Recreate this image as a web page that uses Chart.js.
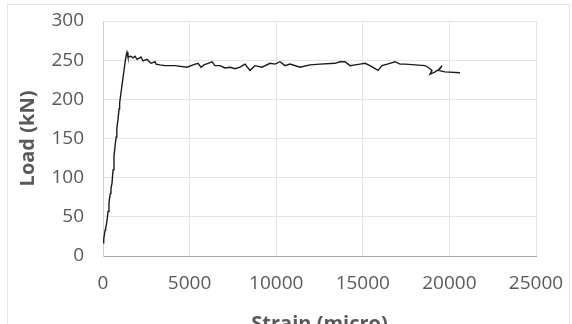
<!DOCTYPE html>
<html>
<head>
<meta charset="utf-8">
<script src="https://cdn.jsdelivr.net/npm/chart.js@4"></script>
<style>
  html, body { margin: 0; padding: 0; background: #fff; }
  #wrap { width: 572px; height: 324px; }
</style>
</head>
<body>
<div id="wrap"><canvas id="load-chart" width="572" height="324"></canvas></div>
<script>
// Strain (micro) and load (kN)
let strain = [
  0, 40, 58, 120, 150, 180, 231, 290, 346, 400, 430, 460, 520, 580, 635, 700, 760, 790, 808,
  870, 930, 960, 982, 1050, 1120, 1200, 1280, 1340, 1386,
  1443, 1600, 1732, 1850, 1963, 2194, 2310, 2540, 2772, 3002, 3060, 3291, 3580, 4157, 4850,
  5197, 5485, 5659, 5832, 6063, 6294, 6467, 6756, 7044, 7333, 7622, 7910, 8199, 8488, 8777,
  9181, 9643, 9931, 10220, 10509, 10797, 11375, 11952, 12530, 13396, 13684, 13973, 14262,
  14550, 14839, 15128, 15417, 15879, 16109, 16571, 16860, 17149, 17437, 18015, 18592, 18766,
  18996, 18881, 19170, 19459, 19574, 19343, 19747, 20613
];
let load = [
  17, 20, 24, 33, 36, 38, 45, 57, 68, 77, 80, 86, 93, 110, 127, 141, 152, 160, 163,
  175, 188, 195, 199, 210, 222, 235, 248, 256, 260,
  254, 255, 253, 255, 251, 254, 249, 251, 246, 248, 245, 244, 243, 243, 241,
  244, 246, 241, 244, 246, 248, 243, 243, 240, 241, 239, 241, 245, 237, 243,
  241, 246, 245, 248, 243, 245, 241, 244, 245, 246, 248, 248, 243,
  244, 245, 246, 243, 237, 243, 246, 248, 245, 245, 244, 243, 241,
  237, 232, 235, 239, 243, 237, 235, 234
];
let xTicks = [0, 5000, 10000, 15000, 20000, 25000];
let yTicks = [0, 50, 100, 150, 200, 250, 300];

let points = strain.map((s, i) => ({ x: s, y: load[i] }));

// faint frame round the whole chart
const framePlugin = {
  id: 'frame',
  beforeDraw(chart) {
    let ctx = chart.ctx;
    ctx.save();
    ctx.fillStyle = '#ffffff';
    ctx.fillRect(0, 0, chart.width, chart.height);
    ctx.strokeStyle = '#e6e6e6';
    ctx.lineWidth = 1;
    ctx.strokeRect(7.5, 4.5, 562, 330);
    ctx.restore();
  }
};

let chart = new Chart(document.getElementById('load-chart').getContext('2d'), {
  type: 'scatter',
  data: {
    datasets: [{
      data: points,
      showLine: true,
      borderColor: '#1a1a1a',
      borderWidth: 1.4,
      pointRadius: 0,
      tension: 0
    }]
  },
  options: {
    responsive: false,
    animation: false,
    layout: { padding: { top: 21, right: 36, left: 0, bottom: 0 } },
    plugins: { legend: { display: false }, tooltip: { enabled: false } },
    scales: {
      x: {
        type: 'linear',
        min: 0, max: 25000,
        afterBuildTicks: s => { s.ticks = xTicks.map(v => ({ value: v })); },
        afterFit: s => { s.height = 68; s.paddingLeft = 0; s.paddingRight = 0; },
        grid: { color: '#e4e4e4', drawTicks: false },
        border: { color: '#a6a6a6', width: 1 },
        ticks: {
          color: '#595959', font: { family: 'Open Sans', size: 19 }, padding: 16, maxRotation: 0,
          callback: v => String(v)
        },
        title: {
          display: true, text: 'Strain (micro)', color: '#595959',
          font: { family: 'Open Sans', size: 20, weight: 'bold' },
          padding: { top: 0, bottom: -12 }
        }
      },
      y: {
        min: 0, max: 300,
        afterBuildTicks: s => { s.ticks = yTicks.map(v => ({ value: v })); },
        afterFit: s => { s.width = 103; s.paddingTop = 0; s.paddingBottom = 0; },
        grid: { color: '#e4e4e4', drawTicks: false },
        border: { color: '#d0d0d0', width: 1 },
        ticks: {
          color: '#595959', font: { family: 'Open Sans', size: 19 }, padding: 19,
          callback: v => String(v)
        },
        title: {
          display: true, text: 'Load (kN)', color: '#595959',
          font: { family: 'Open Sans', size: 20, weight: 'bold' },
          padding: { top: 16, bottom: 0 }
        }
      }
    }
  },
  plugins: [framePlugin]
});
</script>
</body>
</html>
